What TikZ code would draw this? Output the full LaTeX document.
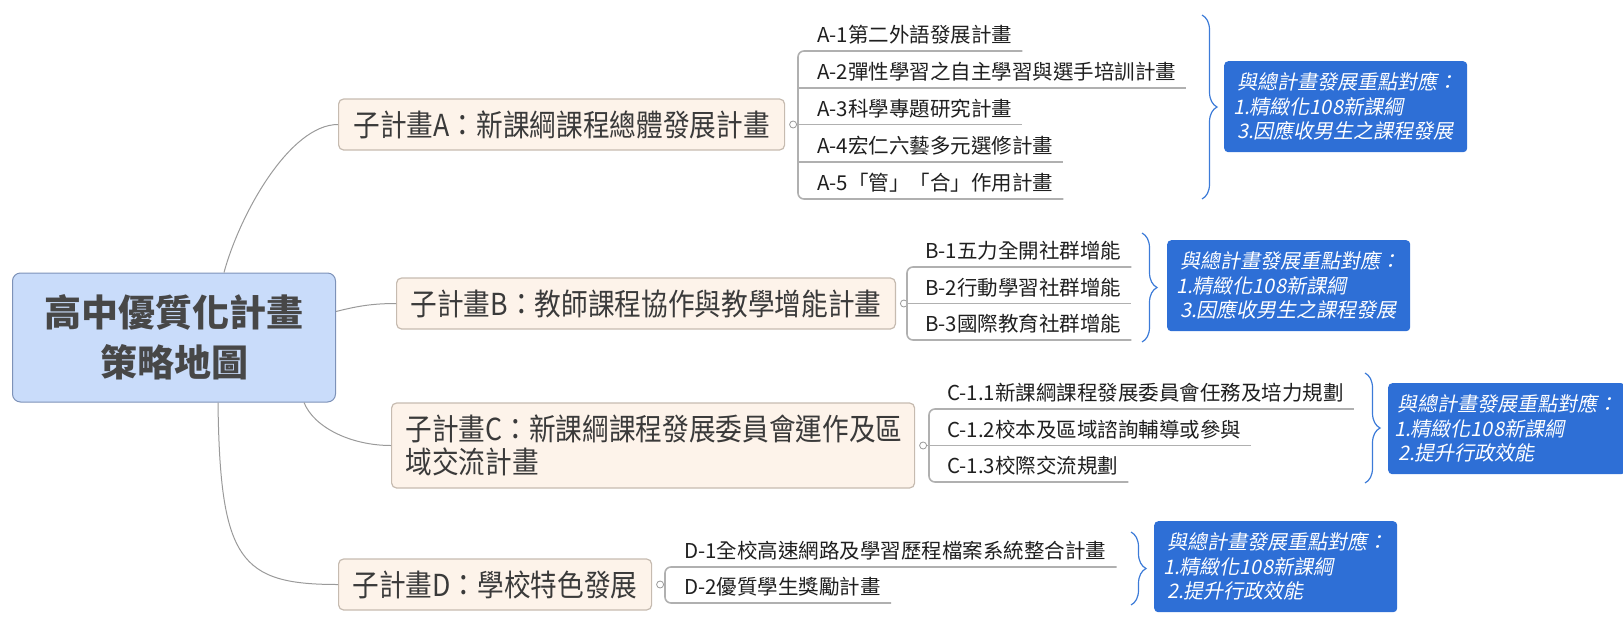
\documentclass[tikz,border=0pt]{standalone}
\usepackage{fontspec}
\usetikzlibrary{positioning}
\usetikzlibrary{decorations.pathreplacing}
\newfontfamily\cjk{Noto Sans CJK TC}
\newfontfamily\subfont[FakeStretch=0.88]{Noto Sans CJK TC}
\newfontfamily\notefont[FakeSlant=0.2]{Noto Sans CJK TC}
\definecolor{rootfill}{HTML}{C9DCFA}
\definecolor{rootline}{HTML}{7D92B8}
\definecolor{roottext}{HTML}{474747}
\definecolor{subfill}{HTML}{FDF3EA}
\definecolor{subline}{HTML}{C6BBB0}
\definecolor{subtext}{HTML}{3A3A3A}
\definecolor{linkgray}{HTML}{9A9A9A}
\definecolor{ulgray}{HTML}{B0B0B0}
\definecolor{noteblue}{HTML}{2E6FD6}
\definecolor{bracecol}{HTML}{3C7BD8}

\tikzset{
  root/.style={draw=rootline, fill=rootfill, rounded corners=8pt, line width=1pt,
    minimum width=323pt, minimum height=129pt, align=center, text=roottext,
    font=\cjk\bfseries\fontsize{37}{50}\selectfont},
  sub/.style={draw=subline, fill=subfill, rounded corners=5pt, line width=1.2pt,
    minimum height=51pt, inner xsep=14pt, anchor=west, text=subtext,
    font=\subfont\fontsize{30.3}{33}\selectfont},
  knob/.style={circle, draw=linkgray, fill=white, line width=0.8pt, inner sep=0pt, minimum size=7pt},
  item/.style={anchor=south west, inner xsep=0pt, inner ysep=8pt, text height=15pt, text depth=0pt,
    text=black!88, font=\cjk\fontsize{20.5}{24}\selectfont},
  uline/.style={draw=ulgray, line width=1.6pt},
  branch/.style={draw=linkgray, line width=1pt},
  note/.style={fill=noteblue, rounded corners=4pt, anchor=north west, minimum height=91pt,
    text width=225pt, inner xsep=9pt, align=left, text=white,
    font=\notefont\fontsize{20}{24.5}\selectfont},
  brace/.style={draw=bracecol, line width=1.2pt, decorate, decoration={brace, amplitude=15pt}},
}

\begin{document}
\begin{tikzpicture}[x=1pt, y=-1pt]
  \useasboundingbox (0,0) rectangle (1623,630);
  % Define nodes
  \node[root] (root) at (174,337.5) {高中優質化計畫\\策略地圖};
  \node[sub, minimum width=446pt] (a) at (338,124.5) {子計畫A：新課綱課程總體發展計畫};
  \node[sub, minimum width=497pt] (b) at (396,303.5) {子計畫B：教師課程協作與教學增能計畫};
  \node[sub, minimum height=85pt, text width=495pt, align=left] (c) at (391,445.5) {子計畫C：新課綱課程發展委員會運作及區\\域交流計畫};
  \node[sub, minimum width=313pt] (d) at (338,584.5) {子計畫D：學校特色發展};
  \node[knob, right=4pt of a] (ka) {};
  \node[knob, right=4pt of b] (kb) {};
  \node[knob, right=4pt of c] (kc) {};
  \node[knob, right=4pt of d] (kd) {};
  \coordinate (sa) at (798,124.5);
  \coordinate (sb) at (907,303.5);
  \coordinate (sc) at (929,445.5);
  \coordinate (sd) at (665,584.5);

  % Items
  \node[item] (a1) at (817,51) {A-1第二外語發展計畫};
  \node[item] (a2) at (817,88) {A-2彈性學習之自主學習與選手培訓計畫};
  \node[item] (a3) at (817,124.5) {A-3科學專題研究計畫};
  \node[item] (a4) at (817,162) {A-4宏仁六藝多元選修計畫};
  \node[item] (a5) at (817,199) {A-5「管」「合」作用計畫};
  \node[item] (b1) at (925,267) {B-1五力全開社群增能};
  \node[item] (b2) at (925,303.5) {B-2行動學習社群增能};
  \node[item] (b3) at (925,340) {B-3國際教育社群增能};
  \node[item] (c1) at (947,409) {C-1.1新課綱課程發展委員會任務及培力規劃};
  \node[item] (c2) at (947,445.5) {C-1.2校本及區域諮詢輔導或參與};
  \node[item] (c3) at (947,482) {C-1.3校際交流規劃};
  \node[item] (d1) at (684,567) {D-1全校高速網路及學習歷程檔案系統整合計畫};
  \node[item] (d2) at (684,603) {D-2優質學生獎勵計畫};

  % Notes
  \node[note] (na) at (1224,61) {\hspace*{4pt}與總計畫發展重點對應：\\1.精緻化108新課綱\\\hspace*{4pt}3.因應收男生之課程發展};
  \node[note] (nb) at (1167,240) {\hspace*{4pt}與總計畫發展重點對應：\\1.精緻化108新課綱\\\hspace*{4pt}3.因應收男生之課程發展};
  \node[note, inner xsep=6pt] (nc) at (1388,383) {\hspace*{3pt}與總計畫發展重點對應：\\1.精緻化108新課綱\\\hspace*{4pt}2.提升行政效能};
  \node[note] (nd) at (1154,521) {\hspace*{4pt}與總計畫發展重點對應：\\1.精緻化108新課綱\\\hspace*{4pt}2.提升行政效能};

  % Branches
  \draw[branch] ([xshift=50pt]root.north) .. controls +(16,-59) and +(-48,0) .. (a.west);
  \draw[branch] ([yshift=26pt]root.east) .. controls +(20,-5) and +(-25,0) .. (b.west);
  \draw[branch] ([xshift=130pt]root.south) .. controls +(10,25) and +(-40,0) .. (c.west);
  \draw[branch] ([xshift=44pt]root.south) .. controls +(2,158) and +(-98,0) .. (d.west);

  % Spines and underlines
  \draw[uline, rounded corners=6pt] ([xshift=10pt]a1.south east) -- (a1.south -| sa) -- (a5.south -| sa) -- ([xshift=10pt]a5.south east);
  \draw[uline] (a2.south -| sa) -- ([xshift=10pt]a2.south east);
  \draw[uline] (ka) -- (sa) -- ([xshift=10pt]a3.south east);
  \draw[uline] (a4.south -| sa) -- ([xshift=10pt]a4.south east);
  \draw[uline, rounded corners=6pt] ([xshift=10pt]b1.south east) -- (b1.south -| sb) -- (b3.south -| sb) -- ([xshift=10pt]b3.south east);
  \draw[uline] (kb) -- (sb) -- ([xshift=10pt]b2.south east);
  \draw[uline, rounded corners=6pt] ([xshift=10pt]c1.south east) -- (c1.south -| sc) -- (c3.south -| sc) -- ([xshift=10pt]c3.south east);
  \draw[uline] (kc) -- (sc) -- ([xshift=10pt]c2.south east);
  \draw[uline, rounded corners=6pt] ([xshift=10pt]d1.south east) -- (d1.south -| sd) -- (d2.south -| sd) -- ([xshift=10pt]d2.south east);
  \draw[uline] (kd) -- (sd);

  % Braces
  \draw[brace] (1202,15) -- (1202,199);
  \draw[brace] (1142,233) -- (1142,342);
  \draw[brace] (1365,373) -- (1365,483);
  \draw[brace] (1131,532) -- (1131,605);
\end{tikzpicture}
\end{document}
